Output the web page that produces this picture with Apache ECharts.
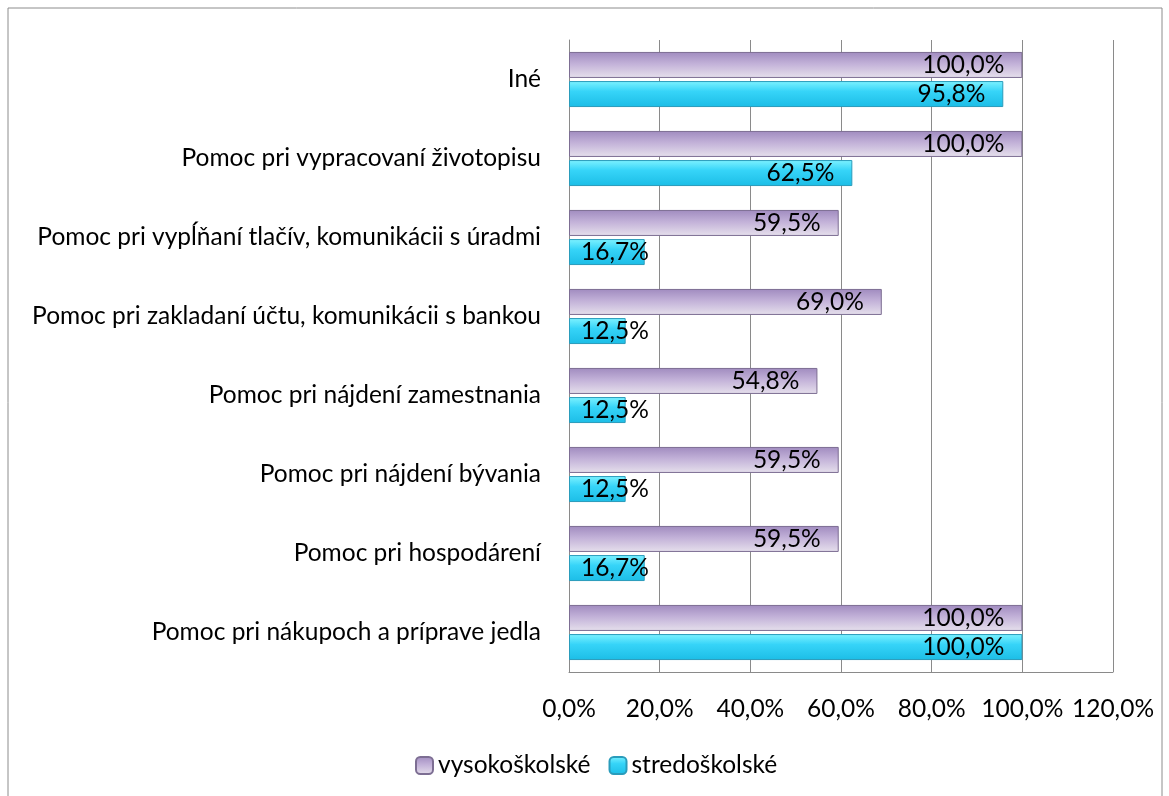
<!DOCTYPE html>
<html>
<head>
<meta charset="utf-8">
<script src="https://cdn.jsdelivr.net/npm/echarts@6/dist/echarts.min.js"></script>
<style>
    html, body { margin: 0; padding: 0; background: #fff; }
    #main { width: 1169px; height: 796px; }
</style>
</head>
<body>
<div id="main"></div>
<script>
    // kategórie zdola nahor
    var categories = [
        'Pomoc pri nákupoch a príprave jedla',
        'Pomoc pri hospodárení',
        'Pomoc pri nájdení bývania',
        'Pomoc pri nájdení zamestnania',
        'Pomoc pri zakladaní účtu, komunikácii s bankou',
        'Pomoc pri vypĺňaní tlačív, komunikácii s úradmi',
        'Pomoc pri vypracovaní životopisu',
        'Iné'
    ];
    var seriesNames = ['vysokoškolské', 'stredoškolské'];
    var vysokoskolske = [100.0, 59.5, 59.5, 54.8, 69.0, 59.5, 100.0, 100.0];
    var stredoskolske = [100.0, 16.7, 12.5, 12.5, 12.5, 16.7, 62.5, 95.8];
    var axisTicks = [0, 20, 40, 60, 80, 100, 120];

    var FONT = 'Lato';
    var FS = 24.5;

    function pct(v) {
        return v.toFixed(1).replace('.', ',') + '%';
    }

    // hodnoty -> dáta s popiskami (malé stĺpce majú popis vľavo)
    function buildData(values) {
        return values.map(function (v) {
            if (v < 20) {
                return { value: v, label: { position: 'insideLeft', distance: 12 } };
            }
            return v;
        });
    }

    var purpleGrad = new echarts.graphic.LinearGradient(0, 0, 0, 1, [
        { offset: 0, color: '#a08bbf' },
        { offset: 0.45, color: '#c2b1d8' },
        { offset: 1, color: '#e6e0ec' }
    ]);
    var cyanGrad = new echarts.graphic.LinearGradient(0, 0, 0, 1, [
        { offset: 0, color: '#7ef2ff' },
        { offset: 0.4, color: '#36d4f8' },
        { offset: 1, color: '#1cbde6' }
    ]);

    var labelStyle = {
        show: true,
        position: 'insideRight',
        distance: 18,
        color: '#000',
        fontFamily: FONT,
        fontSize: FS,
        formatter: function (p) { return pct(p.value); }
    };

    var chart = echarts.init(document.getElementById('main'));
    var option = {
        animation: false,
        graphic: [{
            type: 'rect',
            shape: { x: 8, y: 8, width: 1154, height: 800 },
            style: { fill: 'none', stroke: '#8c8c8c', lineWidth: 1 },
            silent: true
        }],
        grid: {
            left: 569,
            right: 56,
            top: 40,
            bottom: 124
        },
        legend: {
            data: seriesNames,
            top: 748,
            left: 410,
            itemWidth: 17,
            itemHeight: 17,
            itemGap: 18,
            textStyle: { fontFamily: FONT, fontSize: FS, color: '#000' }
        },
        xAxis: {
            type: 'value',
            min: 0,
            max: 120,
            interval: 20,
            axisLine: { show: true, lineStyle: { color: '#8a8a8a' } },
            axisTick: { show: false },
            splitLine: { show: true, lineStyle: { color: '#8a8a8a', width: 1 } },
            axisLabel: {
                fontFamily: FONT,
                fontSize: FS,
                color: '#000',
                margin: 25,
                formatter: function (v) { return pct(v); }
            }
        },
        yAxis: {
            type: 'category',
            data: categories,
            axisLine: { show: true, lineStyle: { color: '#8a8a8a' } },
            axisTick: { show: false },
            axisLabel: {
                fontFamily: FONT,
                fontSize: FS,
                color: '#000',
                margin: 28
            }
        },
        series: [
            {
                name: seriesNames[0],
                type: 'bar',
                data: buildData(vysokoskolske),
                barWidth: 26,
                barGap: '12%',
                itemStyle: { color: purpleGrad, borderColor: '#7d6e93', borderWidth: 1 },
                label: labelStyle
            },
            {
                name: seriesNames[1],
                type: 'bar',
                data: buildData(stredoskolske),
                barWidth: 26,
                barGap: '12%',
                itemStyle: { color: cyanGrad, borderColor: '#2a9cbb', borderWidth: 1 },
                label: labelStyle
            }
        ]
    };
    chart.setOption(option);
</script>
</body>
</html>
